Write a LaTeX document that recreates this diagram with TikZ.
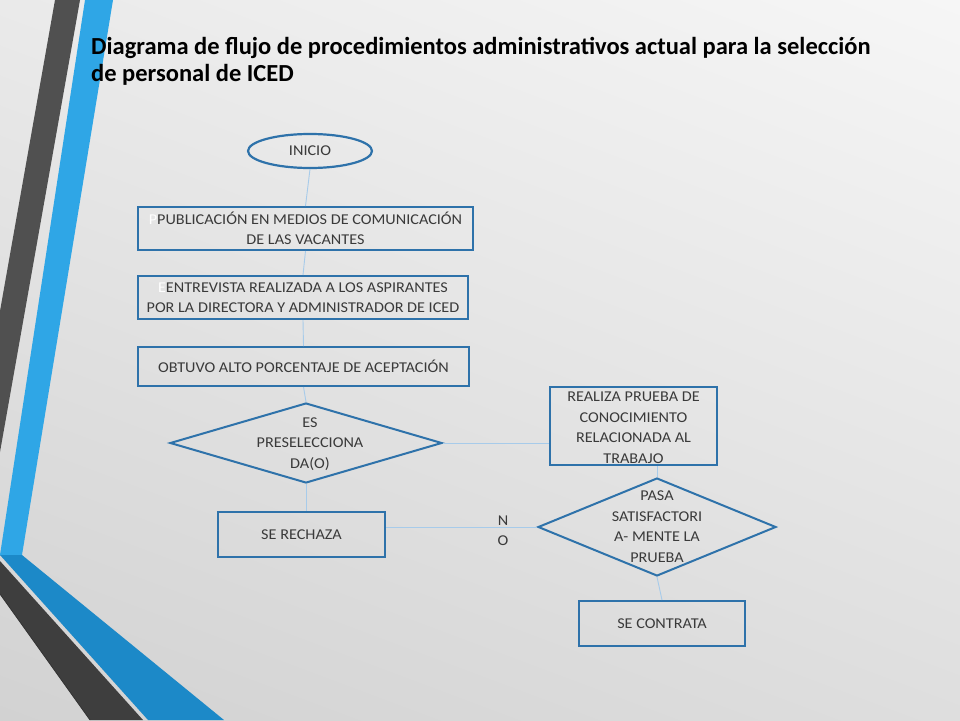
\documentclass[tikz,border=0pt]{standalone}
\usepackage{fontspec}
\setmainfont{Carlito}
\newfontfamily\nodefont[FakeStretch=1.08]{Carlito}
\usetikzlibrary{shapes.geometric,calc,shadings}
\definecolor{bgUL}{HTML}{EAEAEA}
\definecolor{bgUR}{HTML}{F6F6F6}
\definecolor{bgLL}{HTML}{D2D2D2}
\definecolor{bgLR}{HTML}{DEDEDE}
\definecolor{stripeDark}{HTML}{505050}
\definecolor{stripeBlue}{HTML}{2FA6E6}
\definecolor{bandBlue}{HTML}{1C89C8}
\definecolor{bandDark}{HTML}{3E3E3E}
\definecolor{boxBlue}{HTML}{2E72AA}
\definecolor{lineBlue}{HTML}{A7CBEA}
\definecolor{txt}{HTML}{3A3A3A}
\begin{document}
\begin{tikzpicture}[x=1pt,y=-1pt,
  boxnode/.style={draw=boxBlue, line width=2pt, inner sep=0pt, align=center, text=txt,
    font=\nodefont\fontsize{15}{19.5}\selectfont},
  ellnode/.style={ellipse, draw=boxBlue, line width=2.2pt, inner sep=0pt, text=txt,
    font=\nodefont\fontsize{15}{20}\selectfont},
  dianode/.style={diamond, draw=boxBlue, line width=2pt, inner sep=0pt},
  diatext/.style={align=center, text=txt, inner sep=0pt, font=\nodefont\fontsize{15}{20.5}\selectfont},
  titletext/.style={anchor=base west, inner sep=0pt, text=black, font=\fontsize{24.5}{27}\selectfont\bfseries},
  conn/.style={draw=lineBlue, line width=0.9pt}
]
\useasboundingbox (0,0) rectangle (960,720);
% background
\shade[upper left=bgUL, upper right=bgUR, lower left=bgLL, lower right=bgLR] (0,0) rectangle (960,720);
% left decoration
\fill[stripeDark] (55,0) -- (80,0) -- (0,452) -- (0,311) -- cycle;
\fill[stripeBlue] (85,0) -- (113,0) -- (22,555) -- (0,555) -- cycle;
\fill[bandBlue] (0,555) -- (22,555) -- (224,720) -- (148,720) -- cycle;
\fill[bandDark] (0,561) -- (143,720) -- (90,720) -- (0,594) -- cycle;
\draw[black!80, line width=0.8pt] (0,594) -- (90,720);

% title
\node[titletext] (title1) at (91,54) {Diagrama de flujo de procedimientos administrativos actual para la selección};
\node[titletext] (title2) at (91,81) {de personal de ICED};

% nodes
\node[ellnode, minimum width=124, minimum height=34] (ini) at (310,151) {INICIO};
\node[boxnode, minimum width=335, minimum height=43] (b1) at (305.5,228.5)
  {{\color{white}P}PUBLICACIÓN EN MEDIOS DE COMUNICACIÓN\\DE LAS VACANTES};
\node[boxnode, minimum width=330, minimum height=43] (b2) at (303,297.5)
  {{\color{white}E}ENTREVISTA REALIZADA A LOS ASPIRANTES\\POR LA DIRECTORA Y ADMINISTRADOR DE ICED};
\node[boxnode, minimum width=331, minimum height=39] (b3) at (303.5,366.5)
  {OBTUVO ALTO PORCENTAJE DE ACEPTACIÓN};
\node[dianode, minimum width=272, minimum height=80] (d1) at (306,443) {};
\node[diatext] (d1t) at (310,444) {ES\\PRESELECCIONA\\DA(O)};
\node[boxnode, minimum width=167, minimum height=78] (b4) at (633.5,426) {};
\node[diatext] (b4t) at (633.5,427.5) {REALIZA PRUEBA DE\\CONOCIMIENTO\\RELACIONADA AL\\TRABAJO};
\node[dianode, minimum width=238, minimum height=98] (d2) at (657,527) {};
\node[diatext] (d2t) at (657,526.5) {PASA\\SATISFACTORI\\A- MENTE LA\\PRUEBA};
\node[boxnode, minimum width=167, minimum height=45] (rech) at (301.5,534.5) {SE RECHAZA};
\node[boxnode, minimum width=166, minimum height=45] (contr) at (662,623.5) {SE CONTRATA};
\node[diatext, font=\nodefont\fontsize{15}{20}\selectfont] (no) at (503,531) {N\\O};

% connectors
\draw[conn] (ini.south) -- (b1.north);
\draw[conn] (b1.south) -- (b2.north);
\draw[conn] (b2.south) -- (b3.north);
\draw[conn] (b3.south) -- (d1.north);
\draw[conn] (d1.east) -- (d1.east -| b4.west);
\draw[conn] (b4.south -| d2.north) -- (d2.north);
\draw[conn] (d1.south) -- (d1.south |- rech.north);
\draw[conn] (d2.west -| rech.east) -- (d2.west);
\draw[conn] (d2.south) -- (contr.north);
\end{tikzpicture}
\end{document}
